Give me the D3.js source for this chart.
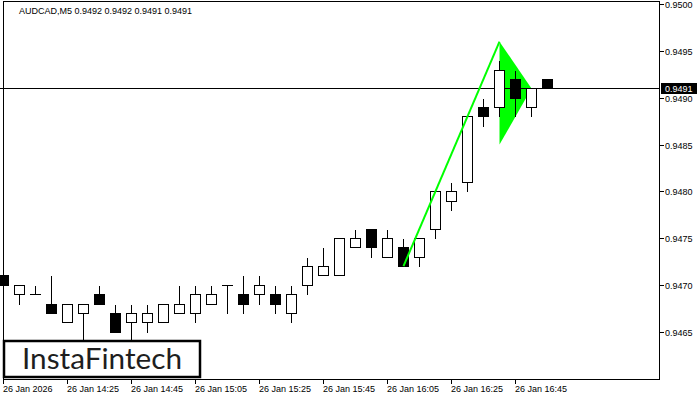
<!DOCTYPE html>
<html>
<head>
<meta charset="utf-8">
<script src="https://cdn.jsdelivr.net/npm/d3@7/dist/d3.min.js"></script>
<style>
  html, body { margin: 0; padding: 0; background: #fff; }
  svg { display: block; }
  text { font-family: "Liberation Sans", Arial, sans-serif; }
</style>
</head>
<body>
<svg id="chart" width="700" height="400"></svg>
<script>
// ---- Data ----
const times = ["14:05","14:10","14:15","14:20","14:25","14:30","14:35","14:40","14:45","14:50",
               "14:55","15:00","15:05","15:10","15:15","15:20","15:25","15:30","15:35","15:40",
               "15:45","15:50","15:55","16:00","16:05","16:10","16:15","16:20","16:25","16:30",
               "16:35","16:40","16:45","16:50","16:55"];
const opens  = [0.9471,0.9469,0.9469,0.9468,0.9466,0.9467,0.9469,0.9467,0.9466,0.9466,
                0.9466,0.9467,0.9467,0.9468,0.9470,0.9469,0.9469,0.9469,0.9467,0.9470,
                0.9471,0.9471,0.9474,0.9476,0.9473,0.9474,0.9473,0.9476,0.9479,0.9481,
                0.9489,0.9489,0.9492,0.9489,0.9492];
const highs  = [0.9472,0.9470,0.9470,0.9471,0.9468,0.9468,0.9470,0.9468,0.9468,0.9468,
                0.9468,0.9470,0.9470,0.9470,0.9470,0.9471,0.9471,0.9470,0.9470,0.9473,
                0.9474,0.9475,0.9476,0.9476,0.9476,0.9475,0.9475,0.9480,0.9481,0.9488,
                0.9490,0.9494,0.9493,0.9491,0.9492];
const lows   = [0.9470,0.9468,0.9469,0.9467,0.9466,0.9463,0.9468,0.9465,0.9463,0.9465,
                0.9466,0.9467,0.9466,0.9468,0.9467,0.9467,0.9468,0.9467,0.9466,0.9469,
                0.9471,0.9471,0.9474,0.9473,0.9473,0.9472,0.9472,0.9475,0.9478,0.9480,
                0.9487,0.9488,0.9488,0.9488,0.9491];
const closes = [0.9470,0.9470,0.9469,0.9467,0.9468,0.9468,0.9468,0.9465,0.9467,0.9467,
                0.9468,0.9468,0.9469,0.9469,0.9470,0.9468,0.9470,0.9468,0.9469,0.9472,
                0.9472,0.9475,0.9475,0.9474,0.9475,0.9472,0.9475,0.9480,0.9480,0.9488,
                0.9488,0.9493,0.9490,0.9491,0.9491];

const yTicks = [0.9465,0.9470,0.9475,0.9480,0.9485,0.9490,0.9495,0.9500];
const xTickTimes  = ["14:05","14:25","14:45","15:05","15:25","15:45","16:05","16:25","16:45"];
const xTickLabels = ["26 Jan 2026","26 Jan 14:25","26 Jan 14:45","26 Jan 15:05","26 Jan 15:25",
                     "26 Jan 15:45","26 Jan 16:05","26 Jan 16:25","26 Jan 16:45"];

const poleTimes = ["16:10","16:40"];
const poleValues = [0.9472,0.9496];
const pennantTimes = ["16:40","16:40","16:50"];
const pennantValues = [0.9496,0.9485,0.9491];

const currentPrice = 0.9491;
const titleText = "AUDCAD,M5  0.9492 0.9492 0.9491 0.9491";
const logoText = "InstaFintech";

// ---- Layout ----
const svg = d3.select("#chart");
const frame = {left: 3.5, top: 1.5, right: 659.5, bottom: 379.5};

const x = d3.scalePoint().domain(times).range([3, 3 + 16 * (times.length - 1)]);
const y = d3.scaleLinear().domain([0.9465, 0.9500]).range([331.55, 4.3]);
const py = v => Math.round(y(v)) + 0.5;

svg.append("rect").attr("x",0).attr("y",0).attr("width",700).attr("height",400).attr("fill","#fff");

const plot = svg.append("g");

// pennant triangle (background)
const tri = pennantTimes.map((t,i) => [x(t) + 0.5, y(pennantValues[i])]);
plot.append("path")
  .attr("d", d3.line()(tri) + "Z")
  .attr("fill", "#00ff00");

// current price line
plot.append("line")
  .attr("x1", 0).attr("x2", frame.right)
  .attr("y1", py(currentPrice)).attr("y2", py(currentPrice))
  .attr("stroke", "#000").attr("stroke-width", 1);

// candles
const candles = times.map((t,i) => ({t, o: opens[i], h: highs[i], l: lows[i], c: closes[i]}));
const cg = plot.append("g").attr("shape-rendering","crispEdges");
candles.forEach(d => {
  const cx = x(d.t);
  const wx = cx + 0.5;
  cg.append("line")
    .attr("x1", wx).attr("x2", wx)
    .attr("y1", py(d.h)).attr("y2", py(d.l))
    .attr("stroke","#000").attr("stroke-width",1);
  const top = py(Math.max(d.o, d.c));
  const bot = py(Math.min(d.o, d.c));
  if (top === bot) {
    cg.append("line")
      .attr("x1", cx - 5).attr("x2", cx + 6)
      .attr("y1", top).attr("y2", top)
      .attr("stroke","#000").attr("stroke-width",1);
  } else {
    const bull = d.c > d.o;
    cg.append("rect")
      .attr("x", cx - 4.5).attr("y", top)
      .attr("width", 10).attr("height", bot - top)
      .attr("fill", bull ? "#fff" : "#000")
      .attr("stroke", "#000").attr("stroke-width", 1);
  }
});

// pole line
plot.append("path")
  .attr("d", d3.line()(poleTimes.map((t,i) => [x(t) + 0.5, y(poleValues[i])])))
  .attr("fill","none").attr("stroke","#00ff00").attr("stroke-width",2);

// frame
svg.append("rect")
  .attr("x", frame.left).attr("y", frame.top)
  .attr("width", frame.right - frame.left).attr("height", frame.bottom - frame.top)
  .attr("fill","none").attr("stroke","#000").attr("stroke-width",1)
  .attr("shape-rendering","crispEdges");

// right axis
const ya = svg.append("g").attr("shape-rendering","crispEdges");
yTicks.forEach(v => {
  const yy = py(v);
  ya.append("line").attr("x1", frame.right).attr("x2", frame.right + 4)
    .attr("y1", yy).attr("y2", yy).attr("stroke","#000");
  svg.append("text").attr("x", 665).attr("y", yy).attr("dy","0.35em")
    .attr("font-size", 9).attr("fill","#000").text(d3.format(".4f")(v));
});

// current price label
const cpy = py(currentPrice);
svg.append("rect").attr("x", 661).attr("y", cpy - 5.5).attr("width", 36).attr("height", 11)
  .attr("fill","#000");
svg.append("text").attr("x", 665).attr("y", cpy).attr("dy","0.35em")
  .attr("font-size", 9).attr("fill","#fff").text(d3.format(".4f")(currentPrice));

// bottom axis
xTickTimes.forEach((t,i) => {
  const xx = Math.round(x(t)) + 0.5;
  svg.append("line").attr("x1", xx).attr("x2", xx)
    .attr("y1", frame.bottom).attr("y2", frame.bottom + 4)
    .attr("stroke","#000").attr("shape-rendering","crispEdges");
  svg.append("text").attr("x", xx - 0.5).attr("y", 392)
    .attr("font-size", 9).attr("fill","#000").text(xTickLabels[i]);
});

// title
svg.append("text").attr("x", 19).attr("y", 14)
  .attr("font-size", 9).attr("fill","#000").text(titleText);

// logo box
svg.append("rect").attr("x", 4).attr("y", 341).attr("width", 196).attr("height", 36)
  .attr("fill","#fff").attr("stroke","#000").attr("stroke-width", 2.5);
svg.append("text").attr("x", 22).attr("y", 369)
  .style("font-family", "Lato, 'Open Sans', sans-serif")
  .style("font-size", "29px").attr("fill","#1e1e1e")
  .attr("textLength", 160).attr("lengthAdjust","spacingAndGlyphs")
  .text(logoText);
</script>
</body>
</html>
